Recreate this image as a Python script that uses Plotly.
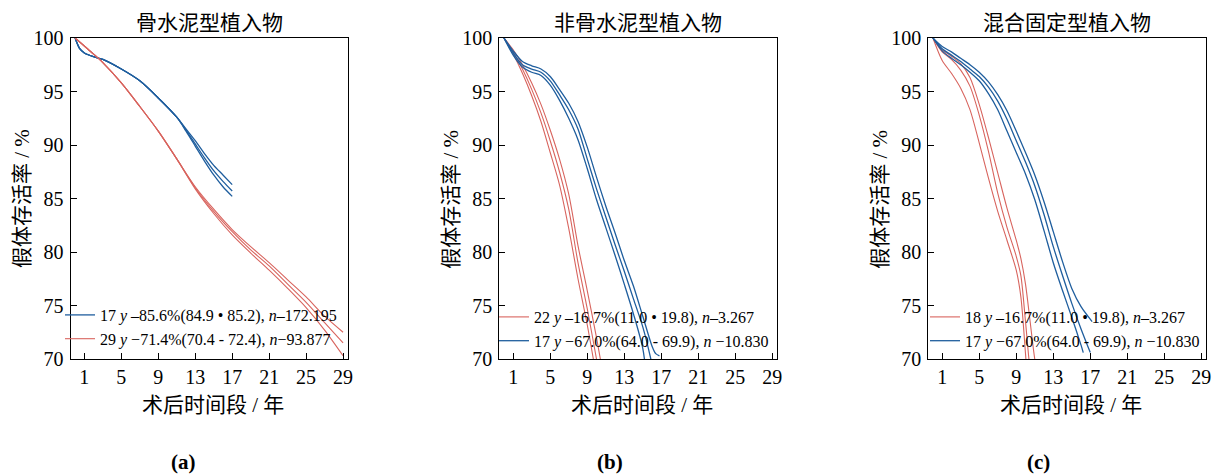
import plotly.graph_objects as go

# ---------------- data ----------------
panel_titles = ["骨水泥型植入物", "非骨水泥型植入物", "混合固定型植入物"]
panel_tags = ["(a)", "(b)", "(c)"]
x_ticks = [1, 5, 9, 13, 17, 21, 25, 29]
y_ticks = [70, 75, 80, 85, 90, 95, 100]

# Panel (a)
a_blue_x = [0, 0.5, 1, 2, 3, 5, 7, 9, 11, 12, 13, 14, 15, 16, 17]
a_blue_up = [100, 99.0, 98.6, 98.25, 98.0, 97.1, 96.0, 94.4, 92.6, 91.5, 90.4, 89.2, 88.1, 87.2, 86.3]
a_blue_mid = [100, 99.0, 98.6, 98.25, 98.0, 97.1, 96.0, 94.4, 92.6, 91.4, 90.1, 88.8, 87.6, 86.6, 85.7]
a_blue_lo = [100, 99.0, 98.6, 98.25, 98.0, 97.1, 96.0, 94.4, 92.6, 91.3, 89.9, 88.5, 87.2, 86.1, 85.2]
a_red_x = [0, 1, 2, 3, 5, 7, 9, 11, 13, 15, 17, 19, 21, 23, 25, 27, 29]
a_red_up = [100, 99.25, 98.5, 97.7, 95.8, 93.6, 91.3, 88.7, 86.1, 84.0, 82.1, 80.5, 79.0, 77.4, 75.8, 74.0, 72.5]
a_red_mid = [100, 99.25, 98.5, 97.7, 95.8, 93.6, 91.3, 88.7, 86.0, 83.8, 81.9, 80.2, 78.7, 77.0, 75.3, 73.4, 71.5]
a_red_lo = [100, 99.25, 98.5, 97.7, 95.8, 93.6, 91.3, 88.7, 85.9, 83.6, 81.6, 79.9, 78.3, 76.6, 74.8, 72.7, 70.3]

# Panel (b)
b_red_lo_x = [0, 1, 2, 3, 4, 5, 6, 7, 8, 9, 10]
b_red_lo = [100, 98.5, 96.7, 94.6, 92.2, 89.3, 86.3, 82.2, 77.5, 73.2, 68.3]
b_red_mid_x = [0, 1, 2, 3, 4, 5, 6, 7, 8, 9, 10, 10.4]
b_red_mid = [100, 98.7, 97.1, 95.2, 93.0, 90.4, 87.5, 84.0, 79.0, 74.7, 70.0, 68.1]
b_red_up_x = [0, 1, 2, 3, 4, 5, 6, 7, 8, 9, 10, 10.8]
b_red_up = [100, 98.9, 97.5, 95.8, 93.8, 91.4, 88.7, 85.4, 80.6, 76.4, 72.0, 68.1]
b_blue_lo_x = [0, 1, 2, 3, 4, 5, 6, 7, 8, 9, 10, 11, 12, 13, 14, 15, 15.4]
b_blue_lo = [100, 98.4, 97.3, 96.8, 96.5, 95.6, 94.2, 92.5, 90.5, 87.8, 84.9, 82.3, 79.7, 77.0, 74.2, 71.0, 68.3]
b_blue_mid_x = [0, 1, 2, 3, 4, 5, 6, 7, 8, 9, 10, 11, 12, 13, 14, 15, 16, 16.3]
b_blue_mid = [100, 98.6, 97.5, 97.1, 96.8, 96.0, 94.7, 93.3, 91.5, 88.7, 85.9, 83.3, 80.7, 78.2, 75.6, 73.0, 69.5, 68.2]
b_blue_up_x = [0, 1, 2, 3, 4, 5, 6, 7, 8, 9, 10, 11, 12, 13, 14, 15, 16, 16.4, 16.8]
b_blue_up = [100, 98.8, 97.8, 97.4, 97.1, 96.4, 95.2, 93.9, 92.2, 89.8, 87.0, 84.3, 81.8, 79.2, 76.8, 74.0, 71.2, 70.5, 70.3]

# Panel (c)
c_red_lo_x = [0, 1, 2, 3, 4, 5, 6, 7, 8, 9, 9.5, 10, 10.2]
c_red_lo = [100, 97.9, 96.7, 95.3, 93.3, 90.2, 86.9, 83.8, 81.1, 78.3, 75.8, 70.5, 68.2]
c_red_mid_x = [0, 1, 2, 3, 4, 5, 6, 7, 8, 9, 9.5, 10, 10.5, 10.7]
c_red_mid = [100, 98.7, 98.0, 97.0, 95.5, 92.8, 89.4, 85.5, 82.3, 79.6, 77.8, 73.5, 69.0, 68.2]
c_red_up_x = [0, 1, 2, 3, 4, 5, 6, 7, 8, 9, 9.5, 10, 10.5, 11, 11.4]
c_red_up = [100, 98.9, 98.3, 97.6, 96.3, 93.8, 90.7, 87.4, 84.1, 81.1, 79.4, 77.0, 73.5, 70.0, 68.2]
c_blue_lo_x = [0, 1, 2, 3, 4, 5, 6, 7, 8, 9, 10, 11, 12, 13, 14, 15, 16, 16.24]
c_blue_lo = [100, 98.8, 98.1, 97.5, 96.8, 96.0, 94.8, 93.3, 91.3, 89.3, 87.3, 84.9, 82.0, 79.0, 76.4, 73.9, 71.3, 70.6]
c_blue_mid_x = [0, 1, 2, 3, 4, 5, 6, 7, 8, 9, 10, 11, 12, 13, 14, 15, 16, 17]
c_blue_mid = [100, 99.0, 98.4, 97.8, 97.1, 96.4, 95.4, 94.1, 92.4, 90.4, 88.4, 86.2, 83.5, 80.5, 77.8, 75.2, 72.8, 70.6]
c_blue_up_x = [0, 1, 2, 3, 4, 5, 6, 7, 8, 9, 10, 11, 12, 13, 14, 15, 16, 17.2]
c_blue_up = [100, 99.2, 98.7, 98.1, 97.5, 96.8, 95.9, 94.7, 93.2, 91.3, 89.3, 87.2, 84.7, 81.9, 79.1, 76.6, 74.9, 73.5]

legend_a = ["17 <i>y</i> –85.6%(84.9 • 85.2), <i>n</i>–172.195",
            "29 <i>y</i> −71.4%(70.4 - 72.4), <i>n</i>−93.877"]
legend_b = ["22 <i>y</i> –16.7%(11.0 • 19.8), <i>n</i>–3.267",
            "17 <i>y</i> −67.0%(64.0 - 69.9), <i>n</i> −10.830"]
legend_c = ["18 <i>y</i> –16.7%(11.0 • 19.8), <i>n</i>–3.267",
            "17 <i>y</i> −67.0%(64.0 - 69.9), <i>n</i> −10.830"]

# ---------------- style ----------------
BLUE = "#1f5e9e"
RED = "#d8645e"
NUM = "Liberation Serif"
MIX = "Liberation Serif, Noto Sans CJK SC"
CJK = "Noto Sans CJK SC"
W, H = 1218, 475

fig = go.Figure()

def add_group(xs_list, ys_list, color, name, axis_idx, legend_name, width):
    xa = "x" if axis_idx == 1 else f"x{axis_idx}"
    ya = "y" if axis_idx == 1 else f"y{axis_idx}"
    for k, (xs, ys) in enumerate(zip(xs_list, ys_list)):
        fig.add_trace(go.Scatter(
            x=xs, y=ys, mode="lines", xaxis=xa, yaxis=ya,
            line=dict(color=color, width=width, shape="spline", smoothing=0.8),
            name=name, showlegend=(k == 1), legend=legend_name,
            hoverinfo="skip"))

# panel a: blue then red
add_group([a_blue_x] * 3, [a_blue_up, a_blue_mid, a_blue_lo], BLUE, legend_a[0], 1, "legend", 1.3)
add_group([a_red_x] * 3, [a_red_up, a_red_mid, a_red_lo], RED, legend_a[1], 1, "legend", 1.1)
# panel b: red then blue
add_group([b_red_lo_x, b_red_mid_x, b_red_up_x], [b_red_lo, b_red_mid, b_red_up], RED, legend_b[0], 2, "legend2", 1.1)
add_group([b_blue_lo_x, b_blue_mid_x, b_blue_up_x], [b_blue_lo, b_blue_mid, b_blue_up], BLUE, legend_b[1], 2, "legend2", 1.3)
# panel c: red then blue
add_group([c_red_lo_x, c_red_mid_x, c_red_up_x], [c_red_lo, c_red_mid, c_red_up], RED, legend_c[0], 3, "legend3", 1.1)
add_group([c_blue_lo_x, c_blue_mid_x, c_blue_up_x], [c_blue_lo, c_blue_mid, c_blue_up], BLUE, legend_c[1], 3, "legend3", 1.3)

# layout geometry (pixel positions converted to paper fractions)
x_domains = [(70.5, 347.7), (499.3, 777.0), (928.3, 1206.0)]
y_dom = [1 - 359 / H, 1 - 38 / H]

axis_common = dict(
    showline=True, linecolor="black", linewidth=1.2, mirror=True,
    ticks="inside", ticklen=6, tickwidth=1, tickcolor="black",
    showgrid=False, zeroline=False, automargin=False,
    tickfont=dict(family=NUM, size=20, color="black"),
)

layout = dict(
    template="none",
    width=W, height=H, margin=dict(l=0, r=0, t=0, b=0, pad=0, autoexpand=False),
    paper_bgcolor="white", plot_bgcolor="white",
    font=dict(family=NUM, color="black"),
)

annotations = []
for i, (x0, x1) in enumerate(x_domains, start=1):
    sfx = "" if i == 1 else str(i)
    layout[f"xaxis{sfx}"] = dict(
        axis_common, domain=[x0 / W, x1 / W], range=[-0.5, 29.5],
        tickvals=x_ticks, anchor=f"y{sfx}", ticklabelstandoff=0)
    layout[f"yaxis{sfx}"] = dict(
        axis_common, domain=y_dom, range=[70, 100],
        tickvals=y_ticks, anchor=f"x{sfx}", ticklabelstandoff=2)
    cx = (x0 + x1) / 2
    annotations.append(dict(text=panel_titles[i - 1], x=cx / W, y=1 - 21 / H,
                            xref="paper", yref="paper", showarrow=False,
                            xanchor="center", yanchor="middle",
                            font=dict(family=CJK, size=21, color="black")))
    annotations.append(dict(text="术后时间段 / 年", x=(cx + 4) / W, y=1 - 405 / H,
                            xref="paper", yref="paper", showarrow=False,
                            xanchor="center", yanchor="middle",
                            font=dict(family=MIX, size=21, color="black")))
    annotations.append(dict(text="假体存活率 / %", x=(x0 - 48.5) / W, y=1 - 199 / H,
                            xref="paper", yref="paper", showarrow=False, textangle=-90,
                            xanchor="center", yanchor="middle",
                            font=dict(family=MIX, size=21, color="black")))
tag_x = [183, 610, 1038]
for t, tx in zip(panel_tags, tag_x):
    annotations.append(dict(text=f"<b>{t}</b>", x=tx / W, y=1 - 462 / H,
                            xref="paper", yref="paper", showarrow=False,
                            xanchor="center", yanchor="middle",
                            font=dict(family=NUM, size=21, color="black")))
layout["annotations"] = annotations

legend_common = dict(bgcolor="rgba(0,0,0,0)", borderwidth=0, yanchor="top",
                     xanchor="left", font=dict(family=NUM, size=16, color="black"),
                     itemwidth=30, tracegroupgap=0, xref="paper", yref="paper")
layout["legend"] = dict(legend_common, x=60 / W, y=1 - 298 / H)
layout["legend2"] = dict(legend_common, x=494 / W, y=1 - 300 / H)
layout["legend3"] = dict(legend_common, x=925 / W, y=1 - 300 / H)

fig.update_layout(**layout)
fig.write_html("out.html", config={"displayModeBar": False},
               post_script="document.body.style.margin='0';document.body.style.overflow='hidden';")
